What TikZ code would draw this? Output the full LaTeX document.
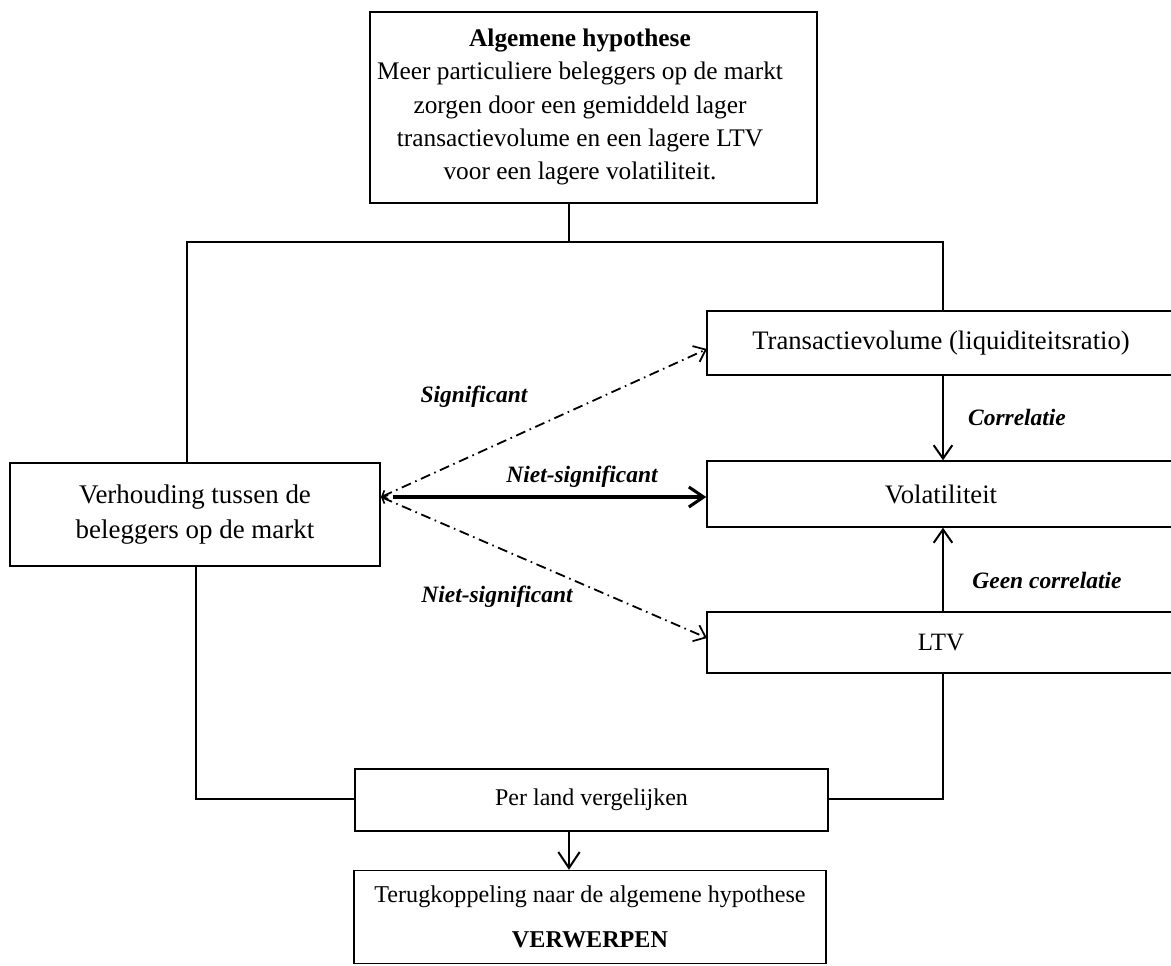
\documentclass[tikz,border=0pt]{standalone}
\usepackage{fontspec}
\setmainfont{Liberation Serif}
\usetikzlibrary{arrows.meta}

\tikzset{
  x=0.75pt, y=-0.75pt,
  box/.style={draw, line width=1.1pt, inner sep=0pt, align=center},
  txt/.style={inner sep=0pt, align=center},
  conn/.style={line width=0.8pt},
  lbl/.style={inner sep=0pt, font=\fontsize{17.6}{20}\selectfont\bfseries\itshape},
  barb/.style={-{Straight Barb[length=10pt,width=14pt,line width=1.5pt]}},
  dashdotline/.style={line width=1.35pt, dash pattern=on 7.5pt off 3.5pt on 1.2pt off 3.5pt,
              {Straight Barb[length=3.5pt,width=7pt,line width=1.2pt]}-{Straight Barb[length=8pt,width=13pt,line width=1.3pt]}},
}

\begin{document}
\begin{tikzpicture}
\clip (0,0) rectangle (1171,965);

% boxes
\node[box, minimum width=447*0.75pt, minimum height=191*0.75pt] (hyp) at (593.5,107.5) {};
\node[txt, font=\fontsize{19}{24.8}\selectfont] (hyptext) at (580,107) {\textbf{Algemene hypothese}\\Meer particuliere beleggers op de markt\\zorgen door een gemiddeld lager\\transactievolume en een lagere LTV\\voor een lagere volatiliteit.};

\node[box, font=\fontsize{20.2}{26}\selectfont, minimum width=370*0.75pt, minimum height=103*0.75pt] (vb) at (195,514.5) {Verhouding tussen de\\beleggers op de markt};

\node[box, font=\fontsize{20}{24}\selectfont, minimum width=468*0.75pt, minimum height=64*0.75pt] (tv) at (941,343) {Transactievolume (liquiditeitsratio)};
\node[box, font=\fontsize{20}{24}\selectfont, minimum width=468*0.75pt, minimum height=66*0.75pt] (vol) at (941,494) {Volatiliteit};
\node[box, font=\fontsize{18.7}{24}\selectfont, minimum width=468*0.75pt, minimum height=61*0.75pt] (ltv) at (941,642.5) {LTV};

\node[box, font=\fontsize{18}{24}\selectfont, minimum width=473*0.75pt, minimum height=62*0.75pt] (pl) at (591.5,800) {Per land vergelijken};
\node[box, minimum width=472*0.75pt, minimum height=93*0.75pt] (tk) at (590,917) {};
\node[txt, font=\fontsize{18.1}{24}\selectfont] (tktext) at (590,897) {Terugkoppeling naar de algemene hypothese};
\node[txt, font=\fontsize{18.1}{24}\selectfont\bfseries] (tkverdict) at (590,940) {VERWERPEN};

% branching points of the tree
\coordinate (axis) at (569,242);
\coordinate (tl) at (187,242);
\coordinate (tr) at (943,242);
\coordinate (bl) at (196,799);
\coordinate (br) at (943,799);

\draw[conn] (hyp.south -| axis) -- (axis);
\draw[conn] (tl |- vb.north) -- (tl) -- (tr) -- (tr |- tv.north);
\draw[conn] (vb.south -| bl) -- (bl) -- (bl -| pl.west);
\draw[conn] (ltv.south -| br) -- (br) -- (br -| pl.east);
\draw[line width=1.5pt, -{Straight Barb[length=12pt,width=16pt,line width=1.5pt]}] (pl.south -| axis) -- (tk.north -| axis);

% relations between the variables
\draw[line width=1.3pt, barb] (tv.south -| tr) -- (vol.north -| tr);
\draw[line width=1.6pt, barb] (ltv.north -| tr) -- (vol.south -| tr);

\coordinate (src) at (381,497);
\coordinate (srcb) at (393,497);
\coordinate (tvin) at (707,349);
\coordinate (ltvin) at (707,638);
\draw[dashdotline] (src) -- (tvin);
\draw[dashdotline] (src) -- (ltvin);
\draw[line width=2.3pt, -{Straight Barb[length=11pt,width=15pt,line width=2.3pt]}] (srcb) -- (srcb -| vol.west);

% labels
\node[lbl] (lsig) at (474,397) {Significant};
\node[lbl] (lnsm) at (582,477) {Niet-significant};
\node[lbl] (lnsl) at (497,597) {Niet-significant};
\node[lbl] (lcor) at (1017,417) {Correlatie};
\node[lbl] (lgeen) at (1047,580) {Geen correlatie};
\end{tikzpicture}
\end{document}
